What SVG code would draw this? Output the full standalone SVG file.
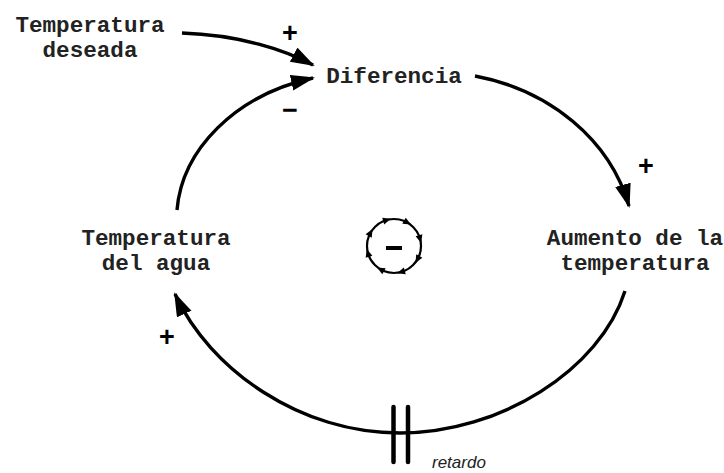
<svg xmlns="http://www.w3.org/2000/svg" width="724" height="473" viewBox="0 0 724 473">
<style>
.lbl{font-family:"Liberation Mono","Courier New",monospace;font-weight:bold;font-size:22.6px;fill:#222;text-anchor:middle}
.sgn{font-family:"Liberation Sans",Arial,sans-serif;font-weight:bold;font-size:27px;fill:#000;text-anchor:middle}
.conn{fill:none;stroke:#000;stroke-width:3.4}
.note{font-family:"Liberation Sans",Arial,sans-serif;font-style:italic;font-size:17px;fill:#222}
</style>
<defs>
<marker id="ah" markerUnits="userSpaceOnUse" markerWidth="26" markerHeight="18" refX="22" refY="8" orient="auto">
<path d="M0,0 L24,8 L0,16 z" fill="#000"/>
</marker>
<polygon id="tick" points="417.5,242.5 424.5,242.5 421,250.5" fill="#000"/>
</defs>
<g id="connectors">
<path class="conn" d="M182,33 C240,35 285,50 313,65" marker-end="url(#ah)"/>
<path class="conn" d="M177,210 C182,150 235,95 313,78" marker-end="url(#ah)"/>
<path class="conn" d="M475,76 C550,90 610,140 629,206" marker-end="url(#ah)"/>
<path class="conn" d="M625,291 C600,370 500,433 400,433 C300,433 210,370 175,294" marker-end="url(#ah)"/>
</g>
<g id="delay">
<line x1="393.5" y1="407" x2="393.5" y2="462" stroke="#000" stroke-width="4.5" stroke-linecap="round"/>
<line x1="408" y1="407" x2="408" y2="462" stroke="#000" stroke-width="4.5" stroke-linecap="round"/>
<text class="note" x="432" y="468">retardo</text>
</g>
<g id="temperatura-deseada">
<text class="lbl" x="90" y="32">Temperatura</text>
<text class="lbl" x="90" y="57">deseada</text>
</g>
<g id="diferencia">
<text class="lbl" x="394" y="83">Diferencia</text>
</g>
<g id="aumento">
<text class="lbl" x="635" y="245">Aumento de la</text>
<text class="lbl" x="635" y="270">temperatura</text>
</g>
<g id="temperatura-agua">
<text class="lbl" x="156" y="245">Temperatura</text>
<text class="lbl" x="156" y="270">del agua</text>
</g>
<g id="signs">
<text class="sgn" x="290" y="42">+</text>
<text class="sgn" x="290" y="119">−</text>
<text class="sgn" x="646" y="175">+</text>
<text class="sgn" x="167" y="346">+</text>
</g>
<g id="loop">
<circle cx="394" cy="246" r="27" fill="none" stroke="#000" stroke-width="2.2"/>
<rect x="386" y="246" width="16" height="4" fill="#000"/>
<use href="#tick" transform="rotate(-106 394 246)"/>
<use href="#tick" transform="rotate(-61 394 246)"/>
<use href="#tick" transform="rotate(-16 394 246)"/>
<use href="#tick" transform="rotate(29 394 246)"/>
<use href="#tick" transform="rotate(74 394 246)"/>
<use href="#tick" transform="rotate(119 394 246)"/>
<use href="#tick" transform="rotate(164 394 246)"/>
<use href="#tick" transform="rotate(209 394 246)"/>
</g>
</svg>
